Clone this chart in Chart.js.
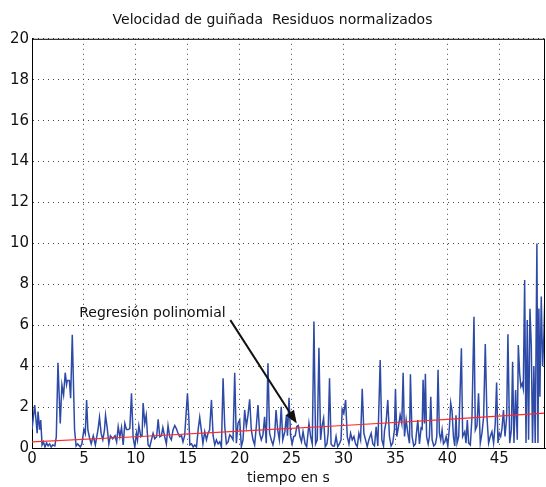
<!DOCTYPE html>
<html>
<head>
<meta charset="utf-8">
<script src="https://cdn.jsdelivr.net/npm/chart.js@4"></script>
<style>
  body { margin: 0; background: #fff; }
  #wrap { width: 546px; height: 487px; }
</style>
</head>
<body>
<div id="wrap"><canvas id="grafico" width="546" height="487"></canvas></div>
<script>
// tiempo (s) y residuos normalizados
var tiempos = [0.0, 0.26, 0.5, 0.58, 0.74, 0.84, 0.97, 1.1, 1.25, 1.4, 1.55, 1.7, 1.85, 2.0, 2.2, 2.34, 2.5, 2.72, 2.88, 3.04,
  3.2, 3.33, 3.4, 3.6, 3.72, 3.88, 4.1, 4.25, 4.4, 4.65, 4.8, 5.0, 5.13, 5.26, 5.38, 5.54, 5.7, 5.9, 6.1, 6.35,
  6.5, 6.66, 6.82, 6.98, 7.08, 7.24, 7.4, 7.55, 7.77, 8.0, 8.15, 8.3, 8.46, 8.62, 8.78, 8.94, 9.1, 9.26, 9.42, 9.58,
  9.74, 9.9, 10.06, 10.16, 10.29, 10.48, 10.6, 10.7, 10.86, 11.0, 11.18, 11.34, 11.5, 11.66, 11.82, 12.0, 12.15, 12.3, 12.46, 12.6,
  12.78, 12.94, 13.1, 13.26, 13.42, 13.58, 13.75, 13.9, 14.06, 14.22, 14.4, 14.54, 14.7, 14.97, 15.1, 15.2, 15.36, 15.52, 15.68, 15.84,
  16.0, 16.15, 16.3, 16.46, 16.63, 16.8, 16.95, 17.1, 17.28, 17.44, 17.6, 17.76, 17.92, 18.08, 18.24, 18.4, 18.56, 18.72, 18.88, 19.04,
  19.2, 19.36, 19.52, 19.68, 19.84, 20.0, 20.16, 20.32, 20.48, 20.64, 20.8, 20.96, 21.12, 21.28, 21.44, 21.6, 21.76, 21.92, 22.08, 22.24,
  22.4, 22.56, 22.72, 22.88, 23.04, 23.2, 23.36, 23.5, 23.66, 23.82, 24.0, 24.15, 24.35, 24.5, 24.6, 24.75, 24.9, 25.05, 25.2, 25.35,
  25.5, 25.65, 25.8, 25.95, 26.1, 26.3, 26.45, 26.67, 26.83, 26.99, 27.15, 27.31, 27.47, 27.63, 27.79, 27.92, 28.08, 28.24, 28.4, 28.52,
  28.65, 28.8, 28.96, 29.12, 29.28, 29.44, 29.6, 29.76, 29.87, 30.03, 30.2, 30.36, 30.52, 30.68, 30.84, 31.0, 31.16, 31.32, 31.48, 31.64,
  31.8, 31.96, 32.12, 32.28, 32.44, 32.66, 32.82, 32.98, 33.14, 33.3, 33.53, 33.69, 33.85, 33.95, 34.1, 34.26, 34.42, 34.58, 34.74, 34.9,
  35.0, 35.13, 35.29, 35.45, 35.61, 35.74, 35.87, 36.03, 36.19, 36.35, 36.44, 36.6, 36.76, 36.92, 37.15, 37.31, 37.47, 37.57, 37.66, 37.79,
  37.88, 38.0, 38.15, 38.27, 38.4, 38.53, 38.69, 38.85, 38.98, 39.1, 39.23, 39.36, 39.49, 39.62, 39.75, 39.88, 40.04, 40.2, 40.32, 40.45,
  40.58, 40.71, 40.83, 40.93, 41.09, 41.22, 41.35, 41.47, 41.67, 41.79, 41.92, 42.05, 42.21, 42.37, 42.56, 42.69, 42.85, 43.0, 43.17, 43.33,
  43.49, 43.65, 43.81, 43.97, 44.13, 44.29, 44.45, 44.61, 44.74, 44.87, 45.0, 45.13, 45.26, 45.4, 45.55, 45.71, 45.83, 46.0, 46.16, 46.28,
  46.41, 46.57, 46.73, 46.83, 46.96, 47.08, 47.21, 47.31, 47.44, 47.57, 47.69, 47.82, 47.95, 48.08, 48.2, 48.33, 48.46, 48.62, 48.72, 48.81,
  48.91, 49.04, 49.17, 49.3, 49.45];
var residuos = [0.9, 2.1, 0.72, 1.78, 0.9, 1.37, 0.15, 0.3, 0.05, 0.25, 0.1, 0.2, 0.05, 0.15, 0.1, 0.55, 4.17, 1.2, 3.08, 2.59,
  3.68, 3.1, 3.3, 3.3, 2.43, 5.53, 0.88, 0.1, 0.2, 0.05, 0.2, 0.9, 0.7, 2.35, 0.88, 0.5, 0.2, 0.6, 0.15, 0.88,
  1.5, 0.7, 0.4, 0.88, 1.6, 1.0, 0.2, 0.6, 0.45, 0.6, 0.3, 1.04, 0.55, 1.0, 0.15, 1.2, 0.9, 0.9, 0.95, 2.67,
  0.5, 0.05, 0.72, 0.4, 1.1, 0.55, 0.6, 2.2, 1.2, 1.6, 0.15, 0.05, 0.4, 0.72, 0.45, 0.55, 1.4, 0.55, 0.6, 1.0,
  0.55, 0.2, 1.1, 0.55, 0.4, 0.88, 1.1, 0.95, 0.72, 0.55, 0.6, 0.3, 0.6, 2.67, 1.5, 0.15, 0.2, 0.05, 0.15, 0.05,
  0.9, 1.5, 0.9, 0.22, 0.8, 0.4, 0.72, 0.88, 2.35, 0.6, 0.15, 0.4, 0.2, 0.3, 0.05, 3.41, 1.05, 0.2, 0.3, 0.64,
  0.55, 0.4, 3.68, 0.23, 1.21, 1.37, 0.07, 0.4, 1.86, 1.05, 1.61, 2.38, 0.88, 0.4, 0.15, 1.05, 2.1, 0.72, 0.4, 0.64,
  1.53, 0.23, 4.14, 0.72, 0.4, 0.15, 0.55, 1.86, 0.88, 0.4, 2.02, 0.4, 0.8, 1.6, 0.6, 2.45, 0.6, 0.2, 0.56, 0.6,
  1.05, 1.1, 0.56, 0.3, 0.8, 0.2, 0.07, 1.2, 0.56, 0.2, 6.18, 0.2, 0.4, 4.9, 0.4, 1.05, 1.45, 0.07, 0.2, 0.72,
  3.41, 0.2, 0.1, 0.1, 0.56, 0.07, 0.2, 0.4, 1.9, 1.7, 2.35, 0.56, 0.2, 0.72, 0.4, 0.56, 0.2, 0.07, 0.72, 0.4,
  2.9, 0.72, 0.4, 0.07, 0.4, 0.72, 0.2, 0.1, 1.04, 0.1, 4.3, 0.4, 0.1, 0.88, 1.28, 2.35, 0.56, 0.1, 0.25, 0.88,
  2.88, 0.56, 1.04, 1.61, 1.2, 3.68, 0.56, 1.37, 0.72, 0.23, 3.6, 0.56, 0.1, 0.2, 1.37, 0.2, 0.98, 0.93, 3.33, 1.2,
  3.63, 0.56, 0.2, 0.56, 2.5, 0.4, 0.1, 0.2, 0.56, 3.82, 0.72, 0.4, 0.88, 0.2, 0.3, 0.56, 0.1, 1.04, 2.2, 1.8,
  0.56, 0.1, 1.6, 0.24, 0.56, 2.67, 4.87, 0.56, 0.8, 0.24, 1.37, 0.24, 0.15, 1.53, 6.42, 0.88, 1.1, 2.67, 0.24, 0.72,
  1.53, 5.08, 1.53, 0.24, 0.56, 0.8, 0.24, 1.2, 3.2, 0.24, 0.72, 0.56, 0.96, 1.86, 0.56, 1.53, 5.56, 0.24, 0.88, 4.22,
  0.24, 2.83, 0.4, 5.03, 3.64, 3.0, 3.15, 2.9, 8.21, 0.24, 6.26, 0.4, 6.8, 5.0, 0.24, 4.0, 0.24, 10.0, 0.24, 6.82,
  2.5, 7.4, 4.0, 5.6, 8.7];

// regresion polinomial
var tiemposReg = [0, 10, 20, 30, 40, 49.4];
var valoresReg = [0.3, 0.55, 0.82, 1.1, 1.4, 1.7];

var ticksX = [0, 5, 10, 15, 20, 25, 30, 35, 40, 45];
var ticksY = [0, 2, 4, 6, 8, 10, 12, 14, 16, 18, 20];

// anotacion: texto y flecha (en unidades de los ejes)
var textoAnot = 'Regresión polinomial';
var posTexto = [11.6, 6.6];
var flechaDesde = [19.1, 6.25];
var flechaHasta = [25.5, 1.2];

var fuente = 'DejaVu Sans';

function aPuntos(xs, ys) {
    var pts = [];
    for (var i = 0; i < xs.length; i++) pts.push({ x: xs[i], y: ys[i] });
    return pts;
}

// dibuja el marco superior/derecho y la anotacion con flecha
var pluginExtra = {
    id: 'extra',
    afterDatasetsDraw: function(chart) {
        var ctx = chart.ctx;
        var a = chart.chartArea;
        var sx = chart.scales.x, sy = chart.scales.y;
        ctx.save();
        ctx.strokeStyle = '#000';
        ctx.lineWidth = 1;
        ctx.beginPath();
        ctx.moveTo(a.left, a.top + 0.5);
        ctx.lineTo(a.right, a.top + 0.5);
        ctx.moveTo(a.right - 0.5, a.top);
        ctx.lineTo(a.right - 0.5, a.bottom);
        ctx.stroke();

        // texto
        ctx.fillStyle = '#111';
        ctx.font = '14px "' + fuente + '"';
        ctx.textAlign = 'center';
        ctx.textBaseline = 'middle';
        ctx.fillText(textoAnot, sx.getPixelForValue(posTexto[0]), sy.getPixelForValue(posTexto[1]));

        // flecha
        var x1 = sx.getPixelForValue(flechaDesde[0]), y1 = sy.getPixelForValue(flechaDesde[1]);
        var x2 = sx.getPixelForValue(flechaHasta[0]), y2 = sy.getPixelForValue(flechaHasta[1]);
        var ang = Math.atan2(y2 - y1, x2 - x1);
        var largo = 13, ancho = 5;
        ctx.strokeStyle = '#111';
        ctx.lineWidth = 2;
        ctx.beginPath();
        ctx.moveTo(x1, y1);
        ctx.lineTo(x2 - largo * Math.cos(ang), y2 - largo * Math.sin(ang));
        ctx.stroke();
        ctx.fillStyle = '#111';
        ctx.beginPath();
        ctx.moveTo(x2, y2);
        ctx.lineTo(x2 - largo * Math.cos(ang) + ancho * Math.sin(ang), y2 - largo * Math.sin(ang) - ancho * Math.cos(ang));
        ctx.lineTo(x2 - largo * Math.cos(ang) - ancho * Math.sin(ang), y2 - largo * Math.sin(ang) + ancho * Math.cos(ang));
        ctx.closePath();
        ctx.fill();
        ctx.restore();
    }
};

var ctx = document.getElementById('grafico').getContext('2d');
var grafico = new Chart(ctx, {
    type: 'line',
    data: {
        datasets: [{
            label: 'Regresión polinomial',
            data: aPuntos(tiemposReg, valoresReg),
            borderColor: '#ff2a2a',
            borderWidth: 1.2,
            pointRadius: 0,
            tension: 0
        }, {
            label: 'Residuos normalizados',
            data: aPuntos(tiempos, residuos),
            borderColor: '#2d4aa6',
            borderWidth: 1.5,
            pointRadius: 0,
            tension: 0
        }]
    },
    options: {
        responsive: false,
        animation: false,
        devicePixelRatio: 1,
        layout: { padding: { left: 0, right: 1, top: 0, bottom: 0 } },
        plugins: {
            legend: { display: false },
            tooltip: { enabled: false },
            title: {
                display: true,
                text: 'Velocidad de guiñada  Residuos normalizados',
                color: '#111',
                font: { family: fuente, size: 14, weight: 'normal' },
                padding: { top: 12, bottom: 10 }
            }
        },
        scales: {
            x: {
                type: 'linear',
                min: 0,
                max: 49.4,
                afterBuildTicks: function(scale) {
                    scale.ticks = ticksX.map(function(v) { return { value: v }; });
                },
                afterFit: function(scale) { scale.height = 39; },
                ticks: {
                    color: '#111',
                    font: { family: fuente, size: 15 },
                    padding: 2,
                    maxRotation: 0
                },
                grid: { color: '#444', lineWidth: 1, drawTicks: false },
                border: { color: '#000', width: 1, dash: [1, 4] },
                title: {
                    display: true,
                    text: 'tiempo en s',
                    color: '#111',
                    font: { family: fuente, size: 14 },
                    padding: { top: 0, bottom: 0 }
                }
            },
            y: {
                min: 0,
                max: 20,
                afterBuildTicks: function(scale) {
                    scale.ticks = ticksY.map(function(v) { return { value: v }; });
                },
                afterFit: function(scale) { scale.width = 32; },
                ticks: {
                    color: '#111',
                    font: { family: fuente, size: 15 },
                    padding: 3
                },
                grid: { color: '#444', lineWidth: 1, drawTicks: false },
                border: { color: '#000', width: 1, dash: [1, 4] }
            }
        }
    },
    plugins: [pluginExtra]
});
</script>
</body>
</html>
